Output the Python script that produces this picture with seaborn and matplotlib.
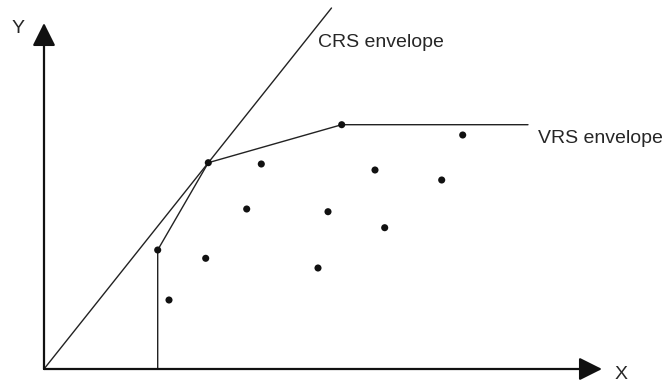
import matplotlib
matplotlib.use("Agg")
import matplotlib.pyplot as plt
import seaborn as sns
import pandas as pd

# firms (input x, output y)
firm_x = [113.7, 164.3, 297.7, 418.7, 217.3, 331.0, 397.7, 202.7, 284.0, 340.7, 161.7, 274.0, 125.0]
firm_y = [119.0, 206.3, 244.3, 234.0, 205.0, 199.0, 189.0, 160.0, 157.3, 141.3, 110.7, 101.0, 69.0]

# constant returns to scale frontier (ray from the origin)
crs_x = [0.0, 287.5]
crs_y = [0.0, 361.0]

# variable returns to scale frontier
vrs_x = [113.7, 113.7, 164.3, 297.7, 484.0]
vrs_y = [0.0, 119.0, 206.3, 244.3, 244.3]

x_axis_end = 558
y_axis_end = 346

sns.set_style("white")
plt.rcParams["font.family"] = ["Liberation Sans", "DejaVu Sans"]

fig = plt.figure(figsize=(6.64, 3.83), dpi=100)
ax = fig.add_axes([0, 0, 1, 1])

df_firms = pd.DataFrame({"x": firm_x, "y": firm_y})
df_crs = pd.DataFrame({"x": crs_x, "y": crs_y})
df_vrs = pd.DataFrame({"x": vrs_x, "y": vrs_y})

sns.lineplot(data=df_crs, x="x", y="y", ax=ax, color="#222222", linewidth=1.0,
             sort=False, estimator=None)
sns.lineplot(data=df_vrs, x="x", y="y", ax=ax, color="#222222", linewidth=1.0,
             sort=False, estimator=None)
sns.scatterplot(data=df_firms, x="x", y="y", ax=ax, color="#111111", s=26, edgecolor="none", zorder=3)

# axes with arrow heads
arrow = dict(arrowstyle="-|>,head_length=0.7,head_width=0.35", color="#111111",
             linewidth=1.6, mutation_scale=20, shrinkA=0, shrinkB=0)
ax.annotate("", xy=(x_axis_end, 0), xytext=(0, 0), arrowprops=arrow)
ax.annotate("", xy=(0, y_axis_end), xytext=(0, 0), arrowprops=arrow)

ax.text(274, 322, "CRS envelope", fontsize=14, ha="left", va="baseline")
ax.text(494, 226, "VRS envelope", fontsize=14, ha="left", va="baseline")
ax.text(-26, 336, "Y", fontsize=14, ha="center", va="baseline")
ax.text(577, -10, "X", fontsize=14, ha="center", va="baseline")

ax.set_xlim(-44, 620)
ax.set_ylim(-14, 369)
ax.set_axis_off()

fig.savefig("out.png", dpi=100)
